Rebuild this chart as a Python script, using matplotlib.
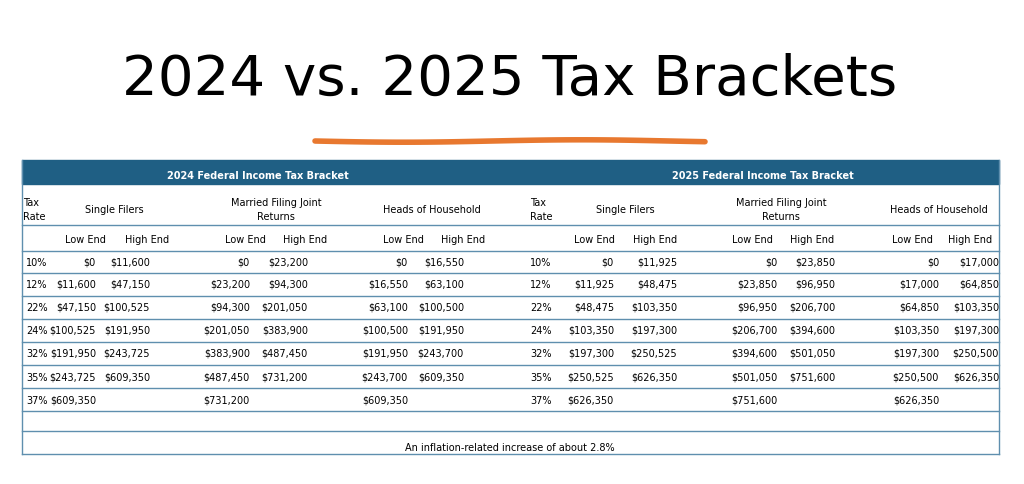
import matplotlib
matplotlib.use("Agg")
import matplotlib.pyplot as plt
import numpy as np

rates = ["10%", "12%", "22%", "24%", "32%", "35%", "37%"]
single_2024 = [(0, 11600), (11600, 47150), (47150, 100525), (100525, 191950), (191950, 243725), (243725, 609350), (609350, None)]
mfj_2024 = [(0, 23200), (23200, 94300), (94300, 201050), (201050, 383900), (383900, 487450), (487450, 731200), (731200, None)]
hoh_2024 = [(0, 16550), (16550, 63100), (63100, 100500), (100500, 191950), (191950, 243700), (243700, 609350), (609350, None)]
single_2025 = [(0, 11925), (11925, 48475), (48475, 103350), (103350, 197300), (197300, 250525), (250525, 626350), (626350, None)]
mfj_2025 = [(0, 23850), (23850, 96950), (96950, 206700), (206700, 394600), (394600, 501050), (501050, 751600), (751600, None)]
hoh_2025 = [(0, 17000), (17000, 64850), (64850, 103350), (103350, 197300), (197300, 250500), (250500, 626350), (626350, None)]

W, H = 1024, 485
fig = plt.figure(figsize=(W/100, H/100), dpi=100)
ax = fig.add_axes([0, 0, 1, 1])
ax.set_xlim(0, W); ax.set_ylim(H, 0); ax.axis("off")

ax.text(510, 80, "2024 vs. 2025 Tax Brackets", fontsize=40.5, ha="center", va="center", family="DejaVu Sans")
xs = np.linspace(315, 705, 60)
ax.plot(xs, 142 + 1.2*np.sin((xs-315)/390*np.pi*2.2), color="#e8782f", lw=4, solid_capstyle="round")

blue = "#1f5f84"; lc = "#5f8fae"; fs = 7.0
ax.add_patch(plt.Rectangle((22, 161), 977, 24, color=blue))
ax.text(258, 176, "2024 Federal Income Tax Bracket", color="white", fontsize=fs, weight="bold", ha="center", va="center")
ax.text(763, 176, "2025 Federal Income Tax Bracket", color="white", fontsize=fs, weight="bold", ha="center", va="center")
for y in [226, 252, 274, 297, 320, 343, 366, 389, 412, 432, 455]:
    ax.plot([22, 999], [y, y], color=lc, lw=1)
ax.plot([22, 22], [161, 455], color=lc, lw=1)
ax.plot([999, 999], [161, 455], color=lc, lw=1)

def money(v):
    return "" if v is None else f"${v:,}"

halves = [
    (23, 37, [114, 276, 432], [(96, 150), (250, 308), (408, 464)], [(85, 147), (245, 305), (403, 463)], [single_2024, mfj_2024, hoh_2024]),
    (530, 541, [625, 781, 939], [(614, 677), (777, 835), (939, 999)], [(594, 655), (752, 812), (912, 970)], [single_2025, mfj_2025, hoh_2025]),
]
row_y = [263, 285, 308, 331, 354, 378, 401]
for tx, rx, gx, cols, hx, data in halves:
    ax.text(tx, 210, "Tax\nRate", fontsize=fs, ha="left", va="center", linespacing=1.6)
    for g, label in zip(gx, ["Single Filers", "Married Filing Joint\nReturns", "Heads of Household"]):
        ax.text(g, 210, label, fontsize=fs, ha="center", va="center", linespacing=1.6)
    for (l, h) in hx:
        ax.text(l, 240, "Low End", fontsize=fs, ha="center", va="center")
        ax.text(h, 240, "High End", fontsize=fs, ha="center", va="center")
    for i, y in enumerate(row_y):
        ax.text(rx, y, rates[i], fontsize=fs, ha="center", va="center")
        for (cl, ch), d in zip(cols, data):
            lo, hi = d[i]
            ax.text(cl, y, money(lo), fontsize=fs, ha="right", va="center")
            ax.text(ch, y, money(hi), fontsize=fs, ha="right", va="center")
ax.text(510, 448, "An inflation-related increase of about 2.8%", fontsize=fs, ha="center", va="center")
fig.savefig("out.png", dpi=100, facecolor="white")
